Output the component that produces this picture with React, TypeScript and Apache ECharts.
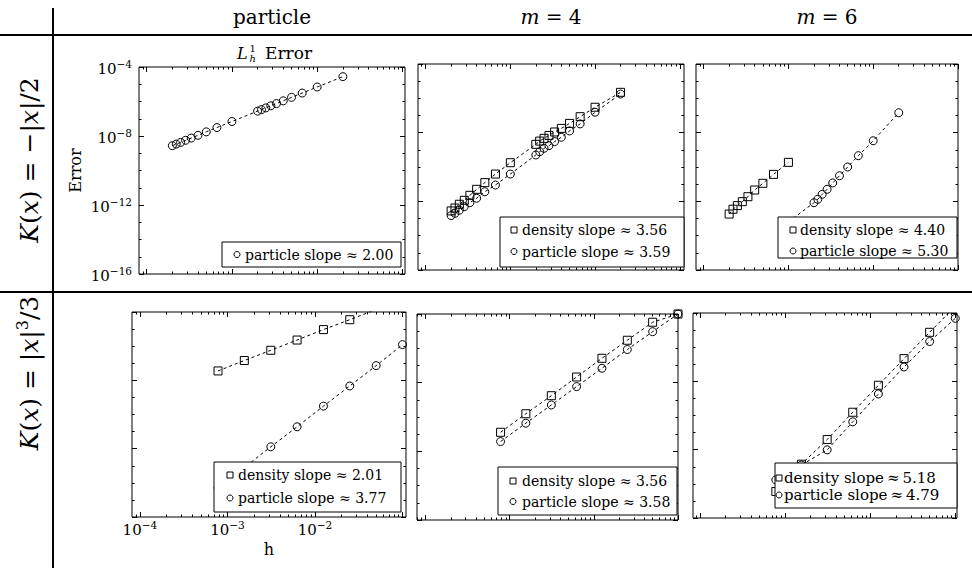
import React, { useEffect, useRef } from 'react';
import * as echarts from 'echarts';

const FONT = '"DejaVu Serif", "Liberation Serif", "Noto Serif", serif';
const INK = '#000';

// ---------------- data ----------------
// step sizes h, top row (N = 5000 ... 1000, 500 ... 50)
const hTop = [0.0002, 0.000222, 0.00025, 0.000286, 0.000333, 0.0004, 0.0005, 0.000667, 0.001,
  0.002, 0.00222, 0.0025, 0.00286, 0.00333, 0.004, 0.005, 0.00667, 0.01, 0.02];
const hTopFine = [0.0002, 0.000222, 0.00025, 0.000286, 0.000333, 0.0004, 0.0005, 0.000667, 0.001];
const hTopM6Particle = [0.001, 0.002, 0.00222, 0.0025, 0.00286, 0.00333, 0.004, 0.005, 0.00667, 0.01, 0.02];
// step sizes h, bottom row
const hBottom = [0.000781, 0.00156, 0.00313, 0.00625, 0.0125, 0.025, 0.05, 0.1];
const hBottomParticleCase = [0.000781, 0.00156, 0.00313, 0.00625, 0.0125, 0.025, 0.05];

// log10(error) values
const p1Particle = [-8.56, -8.47, -8.37, -8.25, -8.12, -7.96, -7.76, -7.51, -7.16,
  -6.56, -6.47, -6.37, -6.25, -6.12, -5.96, -5.76, -5.51, -5.16, -4.56];
const p2Density = [-12.56, -12.39, -12.17, -11.94, -11.65, -11.30, -10.91, -10.41, -9.75,
  -8.68, -8.49, -8.33, -8.16, -7.96, -7.75, -7.46, -7.07, -6.52, -5.65];
const p2Particle = [-12.83, -12.70, -12.52, -12.31, -12.08, -11.82, -11.44, -11.05, -10.41,
  -9.30, -9.11, -8.91, -8.76, -8.52, -8.27, -7.90, -7.49, -6.81, -5.75];
const p3Density = [-12.74, -12.46, -12.25, -12.02, -11.73, -11.34, -10.95, -10.43, -9.73];
const p3Particle = [-13.2, -12.08, -11.88, -11.59, -11.30, -10.93, -10.51, -10.0, -9.34, -8.47, -6.84];
const p4Density = [-7.45, -6.84, -6.24, -5.64, -5.03, -4.45, -3.85];
const p4Particle = [-14.3, -13.1, -11.89, -10.72, -9.51, -8.33, -7.14, -5.91];
const p5Density = [-10.89, -9.81, -8.76, -7.67, -6.58, -5.53, -4.48, -4.0];
const p5Particle = [-11.43, -10.36, -9.30, -8.23, -7.16, -6.07, -5.03, -4.0];
const p6Density = [-14.45, -12.85, -11.41, -9.81, -8.23, -6.67, -5.13, -3.6];
const p6Particle = [-13.77, -12.9, -12.01, -10.37, -8.74, -7.16, -5.67, -4.31];

// text
const columnHeads = ['particle', '{i|m} = 4', '{i|m} = 6'];
const rowHeads = ['{i|K}({i|x}) = \u2212|{i|x}|/2', '{i|K}({i|x}) = |{i|x}|{s|3}/3'];
const legendTexts = [
  ['particle slope \u2248 2.00'],
  ['density slope \u2248 3.56', 'particle slope \u2248 3.59'],
  ['density slope \u2248 4.40', 'particle slope \u2248 5.30'],
  ['density slope \u2248 2.01', 'particle slope \u2248 3.77'],
  ['density slope \u2248 3.56', 'particle slope \u2248 3.58'],
  ['density slope\u2009\u2248\u20095.18', 'particle slope\u2009\u2248\u20094.79'],
];

// axis ticks (log10 units)
const xMajorTicks = [-4, -3, -2, -1];
const xLabelTicks = [-4, -3, -2];
const yMajorTicks = [-16, -12, -8, -4];
const yMinorTicks = [-15, -14, -13, -11, -10, -9, -7, -6, -5];
const yRange = [-16, -4];

// ---------------- layout ----------------
type S = { kind: 'density' | 'particle'; h: number[]; e: number[] };
const panels: { grid: any; x: number[]; series: S[]; leg: any }[] = [
  {
    grid: { left: 139, top: 67, width: 266, height: 207 }, x: [-4.09, -0.97],
    series: [{ kind: 'particle', h: hTop, e: p1Particle }],
    leg: { x: 222, y: 242, w: 179, h: 25, mx: 237, tx: 245, cy: [254.5], kinds: ['particle'], fs: 14 },
  },
  {
    grid: { left: 418, top: 64, width: 266, height: 206 }, x: [-4.09, -0.95],
    series: [{ kind: 'density', h: hTop, e: p2Density }, { kind: 'particle', h: hTop, e: p2Particle }],
    leg: { x: 500, y: 217, w: 184, h: 50, mx: 514, tx: 522, cy: [230, 251.5], kinds: ['density', 'particle'], fs: 14 },
  },
  {
    grid: { left: 696, top: 64, width: 262, height: 206 }, x: [-4.09, -1.0],
    series: [{ kind: 'density', h: hTopFine, e: p3Density }, { kind: 'particle', h: hTopM6Particle, e: p3Particle }],
    leg: { x: 778, y: 217, w: 179, h: 41, mx: 793, tx: 800, cy: [230, 251], kinds: ['density', 'particle'], fs: 14 },
  },
  {
    grid: { left: 132, top: 312, width: 274, height: 205 }, x: [-4.09, -0.96],
    series: [{ kind: 'density', h: hBottomParticleCase, e: p4Density }, { kind: 'particle', h: hBottom, e: p4Particle }],
    leg: { x: 214, y: 462, w: 187, h: 50, mx: 230, tx: 238, cy: [475, 498], kinds: ['density', 'particle'], fs: 14 },
  },
  {
    grid: { left: 417, top: 314, width: 261, height: 206 }, x: [-4.1, -1.0],
    series: [{ kind: 'density', h: hBottom, e: p5Density }, { kind: 'particle', h: hBottom, e: p5Particle }],
    leg: { x: 498, y: 467, w: 179, h: 48, mx: 513, tx: 522, cy: [481, 501.5], kinds: ['density', 'particle'], fs: 14 },
  },
  {
    grid: { left: 693, top: 313, width: 264, height: 205 }, x: [-4.08, -0.98],
    series: [{ kind: 'density', h: hBottom, e: p6Density }, { kind: 'particle', h: hBottom, e: p6Particle }],
    leg: { x: 775, y: 463, w: 182, h: 45, mx: 779, tx: 784, cy: [478, 495], kinds: ['density', 'particle'], fs: 15 },
  },
];

const supRich = {
  b: { fontFamily: FONT, fontSize: 15, lineHeight: 18, color: INK, verticalAlign: 'bottom' },
  s: { fontFamily: FONT, fontSize: 10.5, lineHeight: 10, color: INK, verticalAlign: 'top' },
};
const powLabel = (v: number) => `{b|10}{s|\u2212${Math.abs(Math.round(v))}}`;

function tick(values: number[], len: number) {
  return { show: true, inside: true, length: len, customValues: values, lineStyle: { color: INK, width: 1 } };
}

function txt(x: number, y: number, text: string, size: number, opts: any = {}) {
  const italic = opts.italic ? 'italic ' : '';
  return {
    type: 'text', x, y, z: 30, silent: true, rotation: opts.rotation || 0,
    style: {
      text, font: `${italic}${size}px ${FONT}`, fontFamily: FONT, fontSize: size, fontStyle: opts.italic ? 'italic' : 'normal',
      fill: INK, align: opts.align || 'left', verticalAlign: 'middle', textAlign: opts.align || 'left', textVerticalAlign: 'middle',
      lineHeight: opts.lineHeight, rich: opts.rich,
    },
  };
}

function buildOption() {
  const xMinorAll: number[] = [];
  for (let d = -5; d <= -1; d++) for (let k = 2; k <= 9; k++) xMinorAll.push(d + Math.log10(k));

  const grid: any[] = [];
  const xAxis: any[] = [];
  const yAxis: any[] = [];
  const series: any[] = [];
  const graphic: any[] = [];

  panels.forEach((p, gi) => {
    grid.push({ ...p.grid, show: true, borderColor: INK, borderWidth: 1, backgroundColor: 'transparent', containLabel: false, outerBoundsMode: 'none' });
    const [xmin, xmax] = p.x;
    const inX = (v: number) => v >= xmin - 1e-9 && v <= xmax + 1e-9;
    const xMaj = xMajorTicks.filter(inX);
    const xMin = xMinorAll.filter(inX);
    const bx = { type: 'value', gridIndex: gi, min: xmin, max: xmax, axisLine: { show: false, onZero: false }, splitLine: { show: false }, silent: true };
    const by = { type: 'value', gridIndex: gi, min: yRange[0], max: yRange[1], axisLine: { show: false, onZero: false }, splitLine: { show: false }, silent: true };
    const isXLab = gi === 3;
    const isYLab = gi === 0;
    xAxis.push({
      ...bx, position: 'bottom', axisTick: tick(xMaj, 5),
      axisLabel: isXLab ? { show: true, customValues: xLabelTicks, formatter: powLabel, rich: supRich, margin: 2 } : { show: false },
      name: isXLab ? 'h' : '', nameLocation: 'middle', nameGap: 24,
      nameTextStyle: { fontFamily: FONT, fontSize: 16, color: INK },
    });
    xAxis.push({ ...bx, position: 'bottom', axisTick: tick(xMin, 2.5), axisLabel: { show: false } });
    xAxis.push({ ...bx, position: 'top', axisTick: tick(xMaj, 5), axisLabel: { show: false } });
    xAxis.push({ ...bx, position: 'top', axisTick: tick(xMin, 2.5), axisLabel: { show: false } });
    yAxis.push({
      ...by, position: 'left', axisTick: tick(yMajorTicks, 5),
      axisLabel: isYLab ? { show: true, customValues: yMajorTicks, formatter: powLabel, rich: supRich, margin: 7 } : { show: false },
      name: isYLab ? 'Error' : '', nameLocation: 'middle', nameGap: 56,
      nameTextStyle: { fontFamily: FONT, fontSize: 16, color: INK },
    });
    yAxis.push({ ...by, position: 'left', axisTick: tick(yMinorTicks, 2.5), axisLabel: { show: false } });
    yAxis.push({ ...by, position: 'right', axisTick: tick(yMajorTicks, 5), axisLabel: { show: false } });
    yAxis.push({ ...by, position: 'right', axisTick: tick(yMinorTicks, 2.5), axisLabel: { show: false } });

    p.series.forEach((s) => {
      series.push({
        type: 'line',
        name: `${s.kind}-${gi}`,
        xAxisIndex: gi * 4,
        yAxisIndex: gi * 4,
        data: s.h.map((h, i) => [Math.log10(h), s.e[i]]),
        symbol: s.kind === 'density' ? 'rect' : 'circle',
        symbolSize: 8,
        showAllSymbol: true,
        itemStyle: { color: 'rgba(0,0,0,0)', borderColor: INK, borderWidth: 1 },
        lineStyle: { color: INK, width: 1, type: [3, 3] },
        silent: true,
        clip: true,
        z: 2,
      });
    });

    // legend box
    const L = p.leg;
    graphic.push({ type: 'rect', shape: { x: L.x, y: L.y, width: L.w, height: L.h }, style: { fill: '#fff', stroke: INK, lineWidth: 1 }, z: 20, silent: true });
    L.kinds.forEach((k: string, ri: number) => {
      const cy = L.cy[ri];
      if (k === 'particle') {
        graphic.push({ type: 'circle', shape: { cx: L.mx, cy, r: 3 }, style: { fill: 'none', stroke: INK, lineWidth: 1 }, z: 21, silent: true });
      } else {
        graphic.push({ type: 'rect', shape: { x: L.mx - 3, y: cy - 3, width: 6, height: 6 }, style: { fill: 'none', stroke: INK, lineWidth: 1 }, z: 21, silent: true });
      }
      graphic.push(txt(L.tx, cy, legendTexts[gi][ri], L.fs));
    });
  });

  // table lines
  graphic.push({ type: 'line', shape: { x1: 53, y1: 8, x2: 53, y2: 568 }, style: { stroke: INK, lineWidth: 2 }, z: 30, silent: true });
  graphic.push({ type: 'line', shape: { x1: 0, y1: 35, x2: 972, y2: 35 }, style: { stroke: INK, lineWidth: 2 }, z: 30, silent: true });
  graphic.push({ type: 'line', shape: { x1: 0, y1: 292, x2: 972, y2: 292 }, style: { stroke: INK, lineWidth: 2 }, z: 30, silent: true });

  // column heads
  const headX = [272, 551, 827];
  columnHeads.forEach((t, i) => {
    graphic.push(txt(headX[i], 17, t, 20, {
      align: 'center',
      rich: { i: { font: `italic 20px ${FONT}`, fontFamily: FONT, fontSize: 20, fontStyle: 'italic', fill: INK } },
    }));
  });
  // row heads (rotated)
  const rowY = [160, 373];
  rowHeads.forEach((t, i) => {
    graphic.push(txt(29, rowY[i], t, 25, {
      align: 'center', rotation: Math.PI / 2, lineHeight: 30,
      rich: {
        i: { font: `italic 25px ${FONT}`, fontFamily: FONT, fontSize: 25, lineHeight: 30, fontStyle: 'italic', fill: INK },
        s: { font: `16px ${FONT}`, fontFamily: FONT, fontSize: 16, lineHeight: 16, verticalAlign: 'top', fill: INK },
      },
    }));
  });
  // panel title  L^1_h Error
  graphic.push(txt(237, 53, 'L', 16, { italic: true }));
  graphic.push(txt(249.5, 48, '1', 10));
  graphic.push(txt(249.5, 58.5, 'h', 10, { italic: true }));
  graphic.push(txt(265, 53, 'Error', 17));

  return {
    animation: false,
    backgroundColor: '#fff',
    textStyle: { fontFamily: FONT },
    grid, xAxis, yAxis, series, graphic,
  };
}

export default function App() {
  const ref = useRef<HTMLDivElement>(null);
  useEffect(() => {
    document.body.style.margin = '0';
    const chart = echarts.init(ref.current as HTMLDivElement, null, { renderer: 'svg' });
    chart.setOption(buildOption() as any);
    return () => chart.dispose();
  }, []);
  return <div ref={ref} style={{ position: 'absolute', left: 0, top: 0, width: 972, height: 568, background: '#fff' }} />;
}
